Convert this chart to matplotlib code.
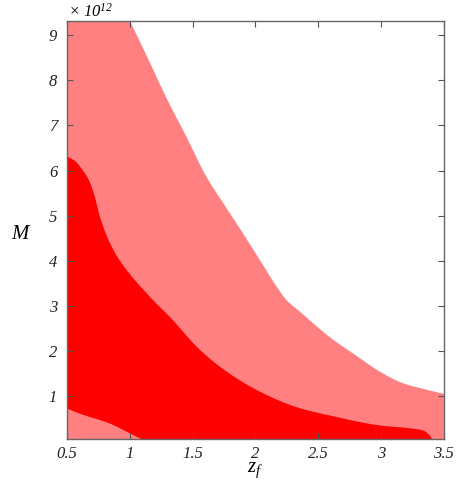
import matplotlib
matplotlib.use("Agg")
import matplotlib.pyplot as plt
import numpy as np

plt.rcParams['font.family'] = ['Liberation Serif']
plt.rcParams['font.style'] = 'italic'
plt.rcParams['mathtext.fontset'] = 'custom'
plt.rcParams['mathtext.rm'] = 'Liberation Serif:italic'
plt.rcParams['mathtext.it'] = 'Liberation Serif:italic'

# Outer (light) region boundary: z_f vs M (units of 1e12)
outer_z = [0.5, 0.9, 1.0, 1.15, 1.30, 1.45, 1.61, 1.75, 1.90, 2.05, 2.17, 2.25, 2.35, 2.59, 2.80, 3.01, 3.17, 3.35, 3.5]
outer_M = [12.0, 9.9, 9.32, 8.45, 7.56, 6.75, 5.86, 5.25, 4.61, 3.95, 3.42, 3.12, 2.88, 2.31, 1.90, 1.51, 1.29, 1.15, 1.05]

# Inner (dark) region boundary
inner_z = [0.5, 0.56, 0.62, 0.67, 0.71, 0.76, 0.84, 0.92, 1.16, 1.32, 1.56, 1.80, 2.06, 2.33, 2.59, 2.99, 3.25, 3.33, 3.38, 3.42, 3.5]
inner_M = [6.32, 6.22, 6.02, 5.80, 5.50, 4.97, 4.39, 4.0, 3.2, 2.75, 2.02, 1.49, 1.07, 0.76, 0.58, 0.36, 0.29, 0.25, 0.15, 0.0, 0.0]

# Lower light patch
low_z = [0.5, 0.60, 0.84, 1.00, 1.13]
low_M = [0.73, 0.62, 0.40, 0.18, 0.0]

light = '#FF8080'
dark = '#FF0000'


def pchip(x, y, xn):
    x = np.asarray(x, float); y = np.asarray(y, float)
    h = np.diff(x); d = np.diff(y) / h
    m = np.zeros_like(y)
    for k in range(1, len(x) - 1):
        if d[k - 1] * d[k] <= 0:
            m[k] = 0
        else:
            w1 = 2 * h[k] + h[k - 1]; w2 = h[k] + 2 * h[k - 1]
            m[k] = (w1 + w2) / (w1 / d[k - 1] + w2 / d[k])
    m[0] = d[0]; m[-1] = d[-1]
    idx = np.clip(np.searchsorted(x, xn) - 1, 0, len(h) - 1)
    t = (xn - x[idx]) / h[idx]
    h00 = 2 * t**3 - 3 * t**2 + 1; h10 = t**3 - 2 * t**2 + t
    h01 = -2 * t**3 + 3 * t**2; h11 = t**3 - t**2
    return h00 * y[idx] + h10 * h[idx] * m[idx] + h01 * y[idx + 1] + h11 * h[idx] * m[idx + 1]


fig = plt.figure(figsize=(4.61, 4.98), dpi=100)
ax = fig.add_axes([0.1453, 0.1185, 0.8177, 0.8399])

zz = np.linspace(0.5, 3.5, 1200)
ax.fill_between(zz, 0, pchip(outer_z, outer_M, zz), color=light, lw=0)
ax.fill_between(zz, 0, np.clip(pchip(inner_z, inner_M, zz), 0, None), color=dark, lw=0)
zl = np.linspace(0.5, 1.13, 300)
ax.fill_between(zl, 0, np.clip(pchip(low_z, low_M, zl), 0, None), color=light, lw=0)

tick_font = dict(family='Liberation Serif', style='italic', size=12, color='#222222')
xt = [0.5, 1, 1.5, 2, 2.5, 3, 3.5]
yt = [1, 2, 3, 4, 5, 6, 7, 8, 9]
ax.set_xlim(0.5, 3.5)
ax.set_ylim(0.05, 9.32)
ax.set_xticks(xt)
ax.set_xticklabels(['0.5', '1', '1.5', '2', '2.5', '3', '3.5'], fontdict=tick_font)
ax.set_yticks(yt)
ax.set_yticklabels([str(v) for v in yt], fontdict=tick_font)
ax.tick_params(axis='x', pad=5)
ax.tick_params(axis='y', pad=7)
ax.tick_params(direction='in', top=True, right=True, length=4, width=0.8,
               color='#555555')
for s in ax.spines.values():
    s.set_color('#666666')
    s.set_linewidth(1.0)

ax.set_xlabel(r'$z_f$', fontsize=15, labelpad=-1)
ax.set_ylabel(r'$M$', fontsize=15, rotation=0)
ax.yaxis.set_label_coords(-0.12, 0.465)
fig.text(0.148, 0.995, r'$\times\ 10^{12}$', fontsize=12, va='top', ha='left')

fig.savefig('out.png', dpi=100)
